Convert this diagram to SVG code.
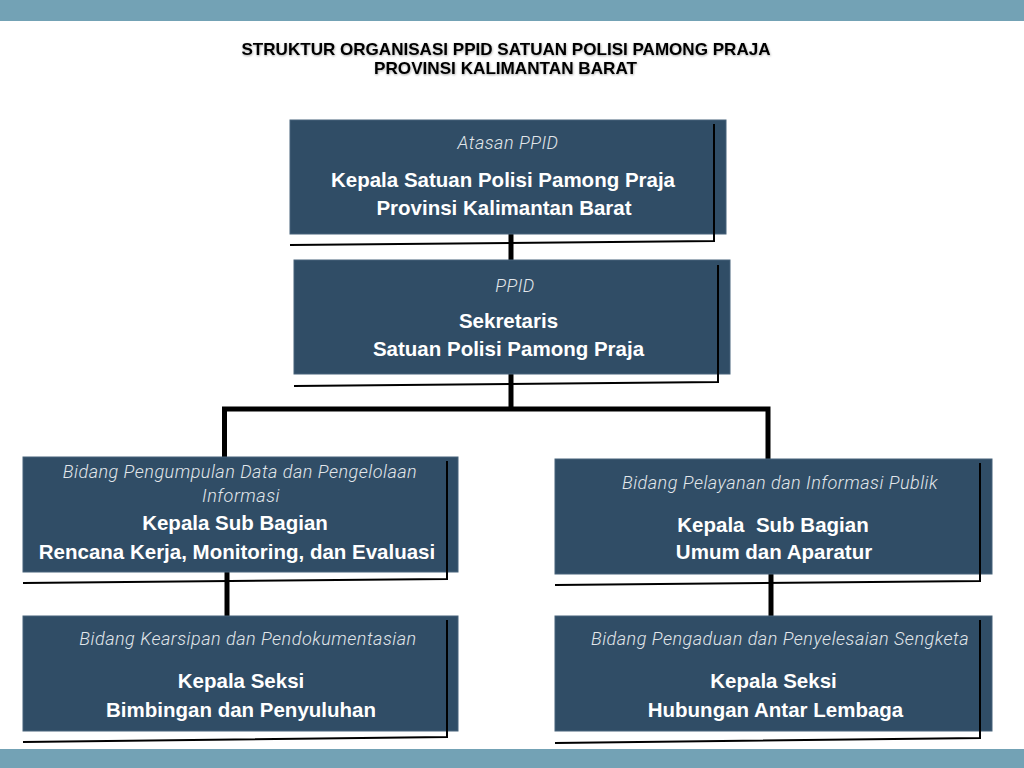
<svg xmlns="http://www.w3.org/2000/svg" width="1024" height="768" viewBox="0 0 1024 768">
<defs>
<style>
.bar{fill:#73a2b5}
.box{fill:#304d66;stroke:#47637a;stroke-width:1}
.sub{font-family:Roboto,"Liberation Sans",sans-serif;font-style:italic;font-weight:300;font-size:18px;fill:#e2e7eb;text-anchor:middle;letter-spacing:0.5px}
.main{font-family:"Liberation Sans",Arial,sans-serif;font-weight:bold;font-size:20.5px;fill:#ffffff;text-anchor:middle}
.title{font-family:"Liberation Sans",Arial,sans-serif;font-weight:bold;font-size:17px;fill:#000000;text-anchor:middle}
.thin{fill:none;stroke:#000000;stroke-width:2;stroke-linejoin:miter}
.conn{fill:none;stroke:#000000;stroke-width:5;stroke-linecap:butt}
</style>
<filter id="sh" x="-5%" y="-30%" width="110%" height="160%">
<feDropShadow dx="0.5" dy="1" stdDeviation="1" flood-color="#000000" flood-opacity="0.35"/>
</filter>
</defs>
<rect width="1024" height="768" fill="#ffffff"/>
<rect class="bar" x="0" y="0" width="1024" height="21"/>
<rect class="bar" x="0" y="749" width="1024" height="19"/>
<g id="title" filter="url(#sh)">
<text class="title" x="506" y="55" textLength="529" lengthAdjust="spacingAndGlyphs">STRUKTUR ORGANISASI PPID SATUAN POLISI PAMONG PRAJA</text>
<text class="title" x="505.5" y="74" textLength="263" lengthAdjust="spacingAndGlyphs">PROVINSI KALIMANTAN BARAT</text>
</g>
<g id="connectors">
<line class="conn" x1="511" y1="228" x2="511" y2="262"/>
<line class="conn" x1="511" y1="372" x2="511" y2="411"/>
<polyline class="conn" points="224.5,459 224.5,409 768,409 768,460"/>
<line class="conn" x1="227" y1="570" x2="227" y2="619"/>
<line class="conn" x1="771" y1="572" x2="771" y2="619"/>
</g>
<g id="node-atasan">
<rect class="box" x="290" y="120" width="436" height="114"/>
<polyline class="thin" points="290,245 714,241 714,124"/>
<text class="sub" x="508" y="149">Atasan PPID</text>
<text class="main" x="503" y="187">Kepala Satuan Polisi Pamong Praja</text>
<text class="main" x="504" y="215">Provinsi Kalimantan Barat</text>
</g>
<g id="node-ppid">
<rect class="box" x="294" y="260" width="436" height="114"/>
<polyline class="thin" points="294,386 718,382 718,265"/>
<text class="sub" x="515" y="292">PPID</text>
<text class="main" x="508.5" y="328">Sekretaris</text>
<text class="main" x="508.5" y="356">Satuan Polisi Pamong Praja</text>
</g>
<g id="node-pengumpulan">
<rect class="box" x="23" y="457" width="435" height="115"/>
<polyline class="thin" points="23,583 447,579 447,461"/>
<text class="sub" x="240" y="478">Bidang Pengumpulan Data dan Pengelolaan</text>
<text class="sub" x="241" y="502">Informasi</text>
<text class="main" x="235" y="530">Kepala Sub Bagian</text>
<text class="main" x="237" y="559">Rencana Kerja, Monitoring, dan Evaluasi</text>
</g>
<g id="node-pelayanan">
<rect class="box" x="555" y="459" width="437" height="115"/>
<polyline class="thin" points="555,585 980,581 980,463"/>
<text class="sub" x="780" y="489">Bidang Pelayanan dan Informasi Publik</text>
<text class="main" x="773" y="532" xml:space="preserve">Kepala  Sub Bagian</text>
<text class="main" x="774" y="559">Umum dan Aparatur</text>
</g>
<g id="node-kearsipan">
<rect class="box" x="23" y="616" width="435" height="115"/>
<polyline class="thin" points="23,742 447,737 447,620"/>
<text class="sub" x="248" y="645">Bidang Kearsipan dan Pendokumentasian</text>
<text class="main" x="241" y="688">Kepala Seksi</text>
<text class="main" x="241" y="717">Bimbingan dan Penyuluhan</text>
</g>
<g id="node-pengaduan">
<rect class="box" x="555" y="616" width="437" height="115"/>
<polyline class="thin" points="555,743 980,738 980,620"/>
<text class="sub" x="780" y="645">Bidang Pengaduan dan Penyelesaian Sengketa</text>
<text class="main" x="773.5" y="688">Kepala Seksi</text>
<text class="main" x="775.5" y="717">Hubungan Antar Lembaga</text>
</g>
</svg>
